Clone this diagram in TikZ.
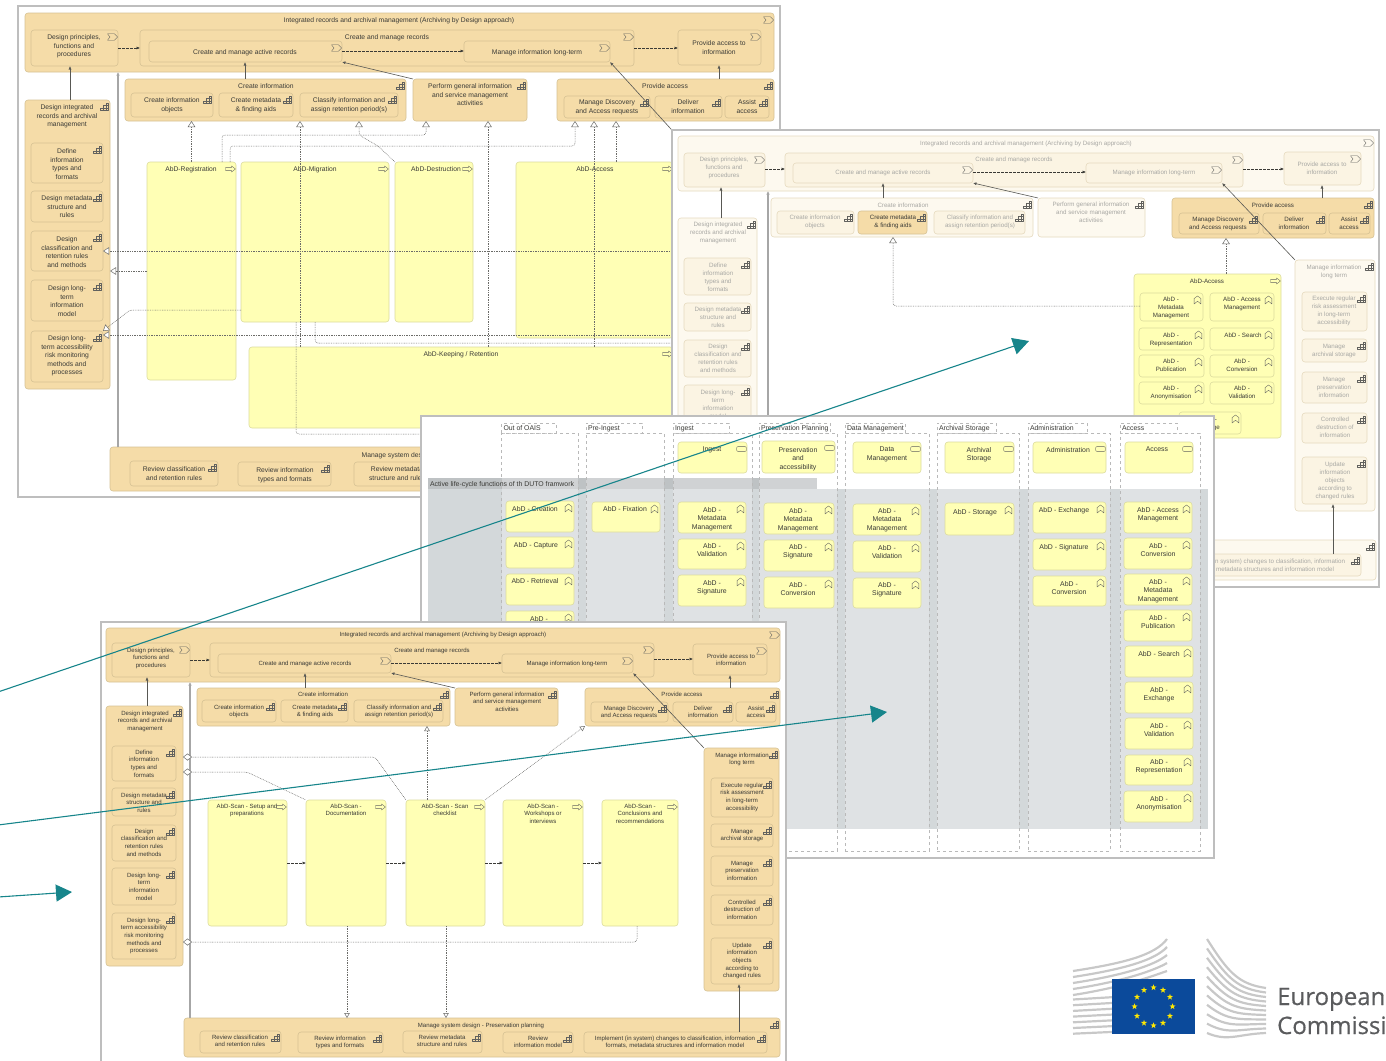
\documentclass[tikz,border=0pt]{standalone}
\usepackage{fontspec}
\setmainfont{Liberation Sans}
\newfontfamily\logofont[BoldFont=Open Sans,BoldFeatures={FakeBold=0.5}]{Open Sans}
\usetikzlibrary{arrows.meta,shapes.geometric}
\definecolor{capfill}{HTML}{F5DCA8}
\definecolor{capline}{HTML}{D6C294}
\definecolor{fadefill}{HTML}{FDF9EF}
\definecolor{fadein}{HTML}{FBF4E3}
\definecolor{fadeline}{HTML}{E6DABF}
\definecolor{fadetxt}{HTML}{A8A8A4}
\definecolor{yelfill}{HTML}{FFFFB5}
\definecolor{yelline}{HTML}{DCDC9E}
\definecolor{darktxt}{HTML}{3A3A36}
\definecolor{framegray}{HTML}{BEBEBE}
\definecolor{grpfill}{HTML}{D3D8DA}
\definecolor{grphead}{HTML}{BEC2C4}
\definecolor{tealarrow}{HTML}{17858B}
\definecolor{flagblue}{HTML}{0B4A9B}
\definecolor{logogray}{HTML}{5A5B5D}
\definecolor{wing}{HTML}{C8C8C8}
\def\bfs{6.75}\def\bls{8.4}
\tikzset{
  boxbase/.style={draw, rounded corners=3pt, inner sep=0, outer sep=0, line width=.6pt},
  capbox/.style={boxbase, fill=capfill, draw=capline},
  fadebox/.style={boxbase, fill=fadefill, draw=fadeline},
  fadeinner/.style={boxbase, fill=fadein, draw=fadeline},
  yelbox/.style={boxbase, fill=yelfill, draw=yelline},
  boxtext/.style={inner sep=0, outer sep=0, align=center, anchor=north, yshift=2pt, text=darktxt, font=\fontsize{\bfs}{\bls}\selectfont},
  capbox text/.style={boxtext},
  yelbox text/.style={boxtext},
  fadebox text/.style={boxtext, text=fadetxt},
  fadeinner text/.style={boxtext, text=fadetxt},
  iconline/.style={draw=darktxt!80, line width=.35pt, line join=round},
  capicon/.pic={\draw[iconline] (-4,3.5) rectangle (4,1) (-1.3,1) rectangle (4,-1.5) (1.4,-1.5) rectangle (4,-4) (-1.3,3.5) -- (-1.3,1) (1.4,3.5) -- (1.4,-1.5);},
  valicon/.pic={\draw[iconline] (-5,-3.2) -- (2,-3.2) -- (5,0) -- (2,3.2) -- (-5,3.2) -- (-2.5,0) -- cycle;},
  procicon/.pic={\draw[iconline] (-5,-1.4) -- (1,-1.4) -- (1,-3) -- (5,0) -- (1,3) -- (1,1.4) -- (-5,1.4) -- cycle;},
  funicon/.pic={\draw[iconline] (-3.4,4) -- (-3.4,-1.5) -- (0,-4) -- (3.4,-1.5) -- (3.4,4) -- (0,1.2) -- cycle;},
  svcicon/.pic={\draw[iconline, rounded corners=2pt] (-5,-2.6) rectangle (5,2.6);},
  winframe/.style={draw=framegray, line width=2pt, fill=white, inner sep=0, outer sep=0, anchor=north west},
  flow/.style={draw=darktxt!85, line width=.6pt, -{Latex[length=3.5pt,width=3pt]}},
  thickflow/.style={draw=gray!70, line width=1.4pt, -{Latex[length=3.5pt,width=3.5pt]}},
  trig/.style={draw=darktxt, line width=.5pt, dashed, dash pattern=on 2.5pt off 1.5pt, -{Latex[length=3.5pt,width=3pt]}},
  dotline/.style={draw=darktxt!75, line width=.5pt, dash pattern=on .8pt off .9pt, rounded corners=3pt},
  realize/.style={dotline, -{Triangle[open, fill=white, length=6pt, width=7.5pt, line width=.5pt]}},
  realsmall/.style={dotline, -{Triangle[open, fill=white, length=5pt, width=5.5pt, line width=.5pt]}},
  aggreg/.style={dotline, {Diamond[open, fill=white, length=9pt, width=7pt, line width=.5pt]}-},
  lanebox/.style={draw=gray!55, dashed, line width=.5pt, fill=white, fill opacity=.28, inner sep=0, outer sep=0, anchor=north west},
  lanetext/.style={inner sep=0, outer sep=0, anchor=west, text=darktxt, font=\fontsize{6.9}{8}\selectfont},
  bigarrow/.style={draw=tealarrow, line width=1.1pt, -{Triangle[length=16pt,width=17pt]}},
  flagstar/.style={star, star points=5, star point ratio=2.5, fill=yellow!90!orange, inner sep=0, minimum size=6.4pt},
  logotext/.style={inner sep=0, anchor=base west, text=logogray, font=\logofont\bfseries\fontsize{24}{26}\selectfont}
}
\newcommand{\abox}[9]{%
  \node[#1, anchor=north west, minimum width={(#6-#4)*1pt}, minimum height={(#7-#5)*1pt}] (#3) at (#4,#5) {};
  \node[#1 text] (#3t) at (#8) {#9};
  \pic at (#6-5.5,#5+7) {#2};
}
\newcommand{\lane}[5]{%
  \node[lanebox, minimum width={(#4-#2)*1pt}, minimum height=10pt] (#1tab) at (#2,423) {};
  \node[lanebox, minimum width={(#3-#2)*1pt}, minimum height=418pt] (#1) at (#2,433) {};
  \node[lanetext] (#1t) at (#2+2,428.5) {#5};
}
\begin{document}
\begin{tikzpicture}[x=1pt,y=-1pt]
\useasboundingbox (0,0) rectangle (1386,1060);

\node[winframe, minimum width=762pt, minimum height=491pt] (win1) at (18,6) {};
\abox{capbox}{valicon}{w1top}{25}{13}{774}{72}{399,20}{Integrated records and archival management (Archiving by Design approach)}
\abox{capbox}{valicon}{w1dp}{31}{30}{118}{66}{74,37}{Design principles,\\functions and\\procedures}
\abox{capbox}{valicon}{w1cmr}{140}{30}{634}{66}{387,37}{Create and manage records}
\abox{capbox}{valicon}{w1active}{149}{41}{342}{62}{245,52}{Create and manage active records}
\abox{capbox}{valicon}{w1long}{464}{41}{610}{62}{537,52}{Manage information long-term}
\abox{capbox}{valicon}{w1provide}{678}{30}{761}{65}{719,43}{Provide access to\\information}
\abox{capbox}{capicon}{w1cinfo}{125}{79}{406}{121}{266,86}{Create information}
\abox{capbox}{capicon}{w1cobj}{131}{93}{213}{117}{172,100}{Create information\\objects}
\abox{capbox}{capicon}{w1cmeta}{219}{93}{293}{117}{256,100}{Create metadata\\\& finding aids}
\abox{capbox}{capicon}{w1class}{300}{93}{398}{117}{349,100}{Classify information and\\assign retention period(s)}
\abox{capbox}{capicon}{w1perform}{413}{79}{527}{121}{470,86}{Perform general information\\and service management\\activities}
\abox{capbox}{capicon}{w1paccess}{557}{79}{774}{121}{665,86}{Provide access}
\abox{capbox}{capicon}{w1disc}{564}{96}{650}{118}{607,102}{Manage Discovery\\and Access requests}
\abox{capbox}{capicon}{w1deliver}{655}{96}{722}{118}{688,102}{Deliver\\information}
\abox{capbox}{capicon}{w1assist}{725}{96}{769}{118}{747,102}{Assist\\access}
\abox{capbox}{capicon}{w1int}{25}{100}{110}{389}{67,107}{Design integrated\\records and archival\\management}
\abox{capbox}{capicon}{w1define}{31}{143}{103}{183}{67,151}{Define\\information\\types and\\formats}
\abox{capbox}{capicon}{w1meta}{31}{191}{103}{222}{67,198}{Design metadata\\structure and\\rules}
\abox{capbox}{capicon}{w1dclass}{31}{231}{103}{271}{67,239}{Design\\classification and\\retention rules\\and methods}
\abox{capbox}{capicon}{w1ltmodel}{31}{280}{103}{321}{67,288}{Design long-\\term\\information\\model}
\abox{capbox}{capicon}{w1ltacc}{31}{331}{103}{382}{67,338}{Design long-\\term accessibility\\risk monitoring\\methods and\\processes}
\abox{yelbox}{procicon}{w1reg}{147}{162}{236}{380}{191,169}{AbD-Registration}
\abox{yelbox}{procicon}{w1mig}{241}{162}{389}{322}{315,169}{AbD-Migration}
\abox{yelbox}{procicon}{w1dest}{395}{162}{473}{322}{436,169}{AbD-Destruction}
\abox{yelbox}{procicon}{w1acc}{516}{162}{673}{338}{595,169}{AbD-Access}
\abox{yelbox}{procicon}{w1keep}{249}{347}{673}{428}{461,354}{AbD-Keeping / Retention}
\abox{capbox}{capicon}{w1system}{110}{447}{500}{491}{432,455}{Manage system design - Preservation planning}
\abox{capbox}{capicon}{w1rclass}{130}{461}{218}{486}{174,469}{Review classification\\and retention rules}
\abox{capbox}{capicon}{w1rinfo}{238}{462}{331}{486}{285,470}{Review information\\types and formats}
\abox{capbox}{capicon}{w1rmeta}{354}{462}{442}{486}{397,469}{Review metadata\\structure and rules}
\coordinate (w1hid) at (680,139);
\coordinate (w1hida) at (680,251);
\coordinate (w1hidb) at (680,335);
\coordinate (w1hidc) at (680,343);
\coordinate (w1hidd) at (430,434);
\draw[flow] (w1int.north -| 70,0) -- (w1dp.south -| 70,0);
\draw[flow] (w1cinfo.north -| 245,0) -- (w1active.south -| 245,0);
\draw[flow] (w1perform.north west) -- (w1active.south east);
\draw[flow] (w1paccess.north -| 719,0) -- (w1provide.south -| 719,0);
\draw[flow] (w1hid) -- (w1long.south east);
\draw[thickflow] (w1system.north -| 118,0) -- (w1top.south -| 118,0);
\draw[trig] (w1dp.east |- 0,48) -- (w1cmr.west |- 0,48);
\draw[trig] (w1active.east |- 0,51) -- (w1long.west |- 0,51);
\draw[trig] (w1cmr.east |- 0,48) -- (w1provide.west |- 0,48);
\draw[realize] (w1reg.north) -- (w1reg.north |- w1cinfo.south);
\draw[realize] (w1keep.north -| 300,0) -- (w1cinfo.south -| 300,0);
\draw[realize] (w1dest.north west) -- (378,146) -- (359,135) -- (w1cinfo.south -| 359,0);
\draw[realize] (w1reg.north -| 222,0) -- (222,135) -- (426,135) -- (w1perform.south -| 426,0);
\draw[realize] (w1reg.north -| 230,0) -- (230,146) -- (575,146) -- (w1paccess.south -| 575,0);
\draw[realize] (w1keep.north -| 488,0) -- (w1perform.south -| 488,0);
\draw[realize] (w1keep.north -| 594,0) -- (w1paccess.south -| 594,0);
\draw[realize] (w1acc.north -| 616,0) -- (w1paccess.south -| 616,0);
\draw[realize] (w1reg.west |- 0,271) -- (w1int.east |- 0,271);
\draw[realize] (w1hida) -- (w1dclass.east |- 0,251);
\draw[realize] (w1mig.west |- 0,310) -- (130,310) -- (w1ltacc.north east);
\draw[realize] (w1hidb) -- (w1ltacc.east |- 0,335);
\draw[dotline] (w1mig.south -| 315,0) -- (315,343) -- (w1hidc);
\draw[dotline] (w1mig.south -| 296,0) -- (296,434) -- (w1hidd);

\def\bfs{6.2}\def\bls{7.9}
\node[winframe, minimum width=707pt, minimum height=457pt] (win2) at (672,130) {};
\abox{fadebox}{valicon}{w2top}{678}{136}{1374}{191}{1026,143}{Integrated records and archival management (Archiving by Design approach)}
\abox{fadeinner}{valicon}{w2dp}{684}{153}{765}{187}{724,159}{Design principles,\\functions and\\procedures}
\abox{fadeinner}{valicon}{w2cmr}{785}{153}{1243}{187}{1014,159}{Create and manage records}
\abox{fadeinner}{valicon}{w2active}{793}{163}{973}{183}{883,172}{Create and manage active records}
\abox{fadeinner}{valicon}{w2long}{1086}{163}{1222}{183}{1154,172}{Manage information long-term}
\abox{fadeinner}{valicon}{w2provide}{1284}{152}{1361}{185}{1322,164}{Provide access to\\information}
\abox{fadebox}{capicon}{w2cinfo}{771}{198}{1033}{237}{903,205}{Create information}
\abox{fadeinner}{capicon}{w2cobj}{777}{211}{854}{234}{815,217}{Create information\\objects}
\abox{capbox}{capicon}{w2cmeta}{858}{211}{927}{234}{893,217}{Create metadata\\\& finding aids}
\abox{fadeinner}{capicon}{w2class}{934}{211}{1025}{234}{980,217}{Classify information and\\assign retention period(s)}
\abox{fadebox}{capicon}{w2perform}{1038}{198}{1145}{237}{1091,204}{Perform general information\\and service management\\activities}
\abox{capbox}{capicon}{w2paccess}{1172}{198}{1374}{238}{1273,205}{Provide access}
\abox{capbox}{capicon}{w2disc}{1179}{213}{1259}{234}{1218,219}{Manage Discovery\\and Access requests}
\abox{capbox}{capicon}{w2deliver}{1263}{213}{1326}{234}{1294,219}{Deliver\\information}
\abox{capbox}{capicon}{w2assist}{1329}{213}{1370}{234}{1349,219}{Assist\\access}
\abox{fadebox}{capicon}{w2int}{678}{218}{757}{470}{718,224}{Design integrated\\records and archival\\management}
\abox{fadeinner}{capicon}{w2define}{684}{258}{751}{295}{718,265}{Define\\information\\types and\\formats}
\abox{fadeinner}{capicon}{w2meta}{684}{303}{751}{331}{718,309}{Design metadata\\structure and\\rules}
\abox{fadeinner}{capicon}{w2dclass}{684}{340}{751}{377}{718,346}{Design\\classification and\\retention rules\\and methods}
\abox{fadeinner}{capicon}{w2ltmodel}{684}{385}{751}{425}{718,392}{Design long-\\term\\information\\model}
\abox{yelbox}{procicon}{w2acc}{1134}{274}{1281}{438}{1207,281}{AbD-Access}
\abox{yelbox}{funicon}{w2fmeta}{1140}{293}{1203}{321}{1171,299}{AbD -\\Metadata\\Management}
\abox{yelbox}{funicon}{w2faccess}{1210}{293}{1274}{321}{1242,299}{AbD - Access\\Management}
\abox{yelbox}{funicon}{w2frep}{1139}{328}{1204}{350}{1171,335}{AbD -\\Representation}
\abox{yelbox}{funicon}{w2fsearch}{1210}{328}{1274}{350}{1243,335}{AbD - Search}
\abox{yelbox}{funicon}{w2fpub}{1139}{355}{1204}{377}{1171,361}{AbD -\\Publication}
\abox{yelbox}{funicon}{w2fconv}{1210}{355}{1274}{377}{1242,361}{AbD -\\Conversion}
\abox{yelbox}{funicon}{w2fanon}{1139}{382}{1204}{404}{1171,388}{AbD -\\Anonymisation}
\abox{yelbox}{funicon}{w2fval}{1210}{382}{1274}{404}{1242,388}{AbD -\\Validation}
\abox{yelbox}{funicon}{w2fstore}{1179}{412}{1241}{434}{1209,419}{AbD -\\Storage}
\abox{fadebox}{capicon}{w2mlt}{1295}{260}{1375}{511}{1334,267}{Manage information\\long term}
\abox{fadeinner}{capicon}{w2exec}{1302}{292}{1367}{331}{1334,298}{Execute regular\\risk assessment\\in long-term\\accessibility}
\abox{fadeinner}{capicon}{w2arch}{1302}{339}{1367}{362}{1334,346}{Manage\\archival storage}
\abox{fadeinner}{capicon}{w2pres}{1302}{372}{1367}{403}{1334,379}{Manage\\preservation\\information}
\abox{fadeinner}{capicon}{w2ctrl}{1302}{413}{1367}{443}{1335,419}{Controlled\\destruction of\\information}
\abox{fadeinner}{capicon}{w2update}{1302}{457}{1367}{504}{1335,464}{Update\\information\\objects\\according to\\changed rules}
\abox{fadebox}{capicon}{w2system}{1000}{540}{1376}{580}{1100,547}{}
\abox{fadeinner}{capicon}{w2impl}{1170}{554}{1361}{576}{1263,561}{Implement (in system) changes to classification, information\\formats, metadata structures and information model}
\coordinate (w2hid) at (768,440);
\draw[flow] (w2int.north -| 721,0) -- (w2dp.south -| 721,0);
\draw[thickflow] (w2hid) -- (w2top.south -| 768,0);
\draw[flow] (w2cinfo.north -| 883,0) -- (w2active.south -| 883,0);
\draw[flow] (w2perform.north west) -- (w2active.south east);
\draw[flow] (w2paccess.north -| 1322,0) -- (w2provide.south -| 1322,0);
\draw[flow] (w2mlt.north west) -- (w2long.south east);
\draw[flow] (w2impl.north -| 1333,0) -- (w2update.south -| 1333,0);
\draw[trig] (w2dp.east |- 0,169) -- (w2cmr.west |- 0,169);
\draw[trig] (w2active.east |- 0,172) -- (w2long.west |- 0,172);
\draw[trig] (w2cmr.east |- 0,169) -- (w2provide.west |- 0,169);
\draw[realize] (w2acc.north -| 1226,0) -- (w2paccess.south -| 1226,0);
\draw[realize] (w2fmeta.west |- 0,306) -- (893,306) -- (w2cinfo.south -| 893,0);

\def\bfs{6.9}\def\bls{8.7}
\node[winframe, minimum width=793pt, minimum height=442pt] (win3) at (421,416) {};
\node[inner sep=0, outer sep=0, anchor=north west, fill=grpfill, minimum width=780pt, minimum height=340pt] (grp) at (428,489) {};
\node[inner sep=0, outer sep=0, anchor=north west, fill=grphead, minimum width=389pt, minimum height=11pt] (grphead) at (428,478) {};
\lane{oais}{501.5}{578}{556}{Out of OAIS}
\lane{pre}{586}{664}{642}{Pre-Ingest}
\lane{ing}{673}{752}{729}{Ingest}
\lane{plan}{759}{837}{830}{Preservation Planning}
\lane{data}{845}{929}{905}{Data Management}
\lane{stor}{937}{1019}{996}{Archival Storage}
\lane{adm}{1028}{1110}{1087}{Administration}
\lane{acc}{1120}{1200}{1177}{Access}
\node[lanetext] (grpt) at (430,484.5) {Active life-cycle functions of th DUTO framwork};
\abox{yelbox}{svcicon}{w3ing}{678}{442}{747}{473}{712,449}{Ingest}
\abox{yelbox}{svcicon}{w3plan}{762}{441}{835}{473}{798,449}{Preservation\\and\\accessibility}
\abox{yelbox}{svcicon}{w3data}{853}{442}{921}{473}{887,449}{Data\\Management}
\abox{yelbox}{svcicon}{w3stor}{945}{442}{1014}{473}{979,449}{Archival\\Storage}
\abox{yelbox}{svcicon}{w3adm}{1033}{442}{1106}{473}{1068,449}{Administration}
\abox{yelbox}{svcicon}{w3acc}{1125}{442}{1193}{473}{1157,449}{Access}
\abox{yelbox}{funicon}{aCre}{506}{501}{574}{532}{535,508}{AbD - Creation}
\abox{yelbox}{funicon}{aCap}{506}{537}{574}{568}{536,544}{AbD - Capture}
\abox{yelbox}{funicon}{aRet}{506}{574}{574}{605}{535,580}{AbD - Retrieval}
\abox{yelbox}{funicon}{aHid}{506}{611}{574}{640}{539,618}{AbD -}
\abox{yelbox}{funicon}{bFix}{592}{502}{660}{532}{625,508}{AbD - Fixation}
\abox{yelbox}{funicon}{cMet}{678}{502}{746}{533}{712,509}{AbD -\\Metadata\\Management}
\abox{yelbox}{funicon}{cVal}{678}{539}{746}{569}{712,545}{AbD -\\Validation}
\abox{yelbox}{funicon}{cSig}{678}{575}{746}{606}{712,582}{AbD -\\Signature}
\abox{yelbox}{funicon}{dMet}{764}{503}{834}{534}{798,510}{AbD -\\Metadata\\Management}
\abox{yelbox}{funicon}{dSig}{764}{540}{834}{571}{798,546}{AbD -\\Signature}
\abox{yelbox}{funicon}{dCon}{764}{577}{834}{608}{798,584}{AbD -\\Conversion}
\abox{yelbox}{funicon}{eMet}{853}{504}{921}{535}{887,510}{AbD -\\Metadata\\Management}
\abox{yelbox}{funicon}{eVal}{853}{541}{921}{572}{887,547}{AbD -\\Validation}
\abox{yelbox}{funicon}{eSig}{853}{578}{921}{608}{887,584}{AbD -\\Signature}
\abox{yelbox}{funicon}{fSto}{945}{503}{1014}{535}{975,511}{AbD - Storage}
\abox{yelbox}{funicon}{gExc}{1033}{502}{1106}{533}{1064,509}{AbD - Exchange}
\abox{yelbox}{funicon}{gSig}{1033}{539}{1106}{570}{1064,546}{AbD - Signature}
\abox{yelbox}{funicon}{gCon}{1033}{576}{1106}{606}{1069,583}{AbD -\\Conversion}
\abox{yelbox}{funicon}{hAcc}{1124}{502}{1192}{533}{1158,509}{AbD - Access\\Management}
\abox{yelbox}{funicon}{hCon}{1124}{538}{1192}{569}{1158,545}{AbD -\\Conversion}
\abox{yelbox}{funicon}{hMet}{1124}{574}{1192}{605}{1158,581}{AbD -\\Metadata\\Management}
\abox{yelbox}{funicon}{hPub}{1124}{610}{1192}{641}{1158,617}{AbD -\\Publication}
\abox{yelbox}{funicon}{hSea}{1125}{646}{1193}{677}{1159,653}{AbD - Search}
\abox{yelbox}{funicon}{hExc}{1125}{682}{1193}{713}{1159,689}{AbD -\\Exchange}
\abox{yelbox}{funicon}{hVal}{1125}{718}{1193}{749}{1159,725}{AbD -\\Validation}
\abox{yelbox}{funicon}{hRep}{1125}{755}{1193}{785}{1159,761}{AbD -\\Representation}
\abox{yelbox}{funicon}{hAno}{1124}{791}{1193}{822}{1159,798}{AbD -\\Anonymisation}

\def\bfs{6.05}\def\bls{7.6}
\node[winframe, minimum width=685pt, minimum height=445pt] (win4) at (101,622) {};
\abox{capbox}{valicon}{w4top}{106}{628}{780}{682}{443,634}{Integrated records and archival management (Archiving by Design approach)}
\abox{capbox}{valicon}{w4dp}{112}{643}{190}{677}{151,650}{Design principles,\\functions and\\procedures}
\abox{capbox}{valicon}{w4cmr}{210}{643}{654}{677}{432,650}{Create and manage records}
\abox{capbox}{valicon}{w4active}{218}{654}{391}{673}{305,663}{Create and manage active records}
\abox{capbox}{valicon}{w4long}{502}{654}{633}{673}{567,663}{Manage information long-term}
\abox{capbox}{valicon}{w4provide}{693}{644}{767}{675}{731,656}{Provide access to\\information}
\abox{capbox}{capicon}{w4cinfo}{197}{688}{450}{726}{323,694}{Create information}
\abox{capbox}{capicon}{w4cobj}{202}{700}{276}{722}{239,707}{Create information\\objects}
\abox{capbox}{capicon}{w4cmeta}{281}{700}{348}{722}{315,707}{Create metadata\\\& finding aids}
\abox{capbox}{capicon}{w4class}{354}{700}{443}{722}{399,707}{Classify information and\\assign retention period(s)}
\abox{capbox}{capicon}{w4perform}{455}{688}{558}{726}{507,694}{Perform general information\\and service management\\activities}
\abox{capbox}{capicon}{w4paccess}{585}{688}{780}{726}{682,694}{Provide access}
\abox{capbox}{capicon}{w4disc}{591}{702}{668}{722}{629,708}{Manage Discovery\\and Access requests}
\abox{capbox}{capicon}{w4deliver}{673}{702}{733}{722}{703,708}{Deliver\\information}
\abox{capbox}{capicon}{w4assist}{736}{702}{776}{722}{756,708}{Assist\\access}
\abox{capbox}{capicon}{w4int}{106}{706}{183}{966}{145,713}{Design integrated\\records and archival\\management}
\abox{capbox}{capicon}{w4define}{112}{746}{176}{781}{144,752}{Define\\information\\types and\\formats}
\abox{capbox}{capicon}{w4meta}{112}{788}{176}{816}{144,795}{Design metadata\\structure and\\rules}
\abox{capbox}{capicon}{w4dclass}{112}{825}{176}{861}{144,831}{Design\\classification and\\retention rules\\and methods}
\abox{capbox}{capicon}{w4ltmodel}{112}{868}{176}{905}{144,875}{Design long-\\term\\information\\model}
\abox{capbox}{capicon}{w4ltacc}{112}{913}{176}{959}{144,920}{Design long-\\term accessibility\\risk monitoring\\methods and\\processes}
\abox{capbox}{capicon}{w4mlt}{704}{748}{779}{991}{742,755}{Manage information\\long term}
\abox{capbox}{capicon}{w4exec}{711}{778}{773}{817}{742,785}{Execute regular\\risk assessment\\in long-term\\accessibility}
\abox{capbox}{capicon}{w4arch}{711}{824}{773}{847}{742,831}{Manage\\archival storage}
\abox{capbox}{capicon}{w4pres}{711}{856}{773}{886}{742,863}{Manage\\preservation\\information}
\abox{capbox}{capicon}{w4ctrl}{711}{895}{773}{925}{742,902}{Controlled\\destruction of\\information}
\abox{capbox}{capicon}{w4update}{711}{938}{773}{984}{742,945}{Update\\information\\objects\\according to\\changed rules}
\abox{yelbox}{procicon}{w4setup}{208}{800}{287}{926}{247,806}{AbD-Scan - Setup and\\preparations}
\abox{yelbox}{procicon}{w4doc}{306}{800}{386}{926}{346,806}{AbD-Scan -\\Documentation}
\abox{yelbox}{procicon}{w4check}{406}{800}{485}{926}{445,806}{AbD-Scan - Scan\\checklist}
\abox{yelbox}{procicon}{w4work}{503}{800}{583}{926}{543,806}{AbD-Scan -\\Workshops or\\interviews}
\abox{yelbox}{procicon}{w4concl}{602}{800}{678}{926}{640,806}{AbD-Scan -\\Conclusions and\\recommendations}
\abox{capbox}{capicon}{w4system}{184}{1018}{780}{1057}{481,1025}{Manage system design - Preservation planning}
\abox{capbox}{capicon}{w4rclass}{200}{1031}{281}{1053}{240,1037}{Review classification\\and retention rules}
\abox{capbox}{capicon}{w4rinfo}{298}{1032}{383}{1053}{340,1038}{Review information\\types and formats}
\abox{capbox}{capicon}{w4rmeta}{403}{1031}{482}{1053}{442,1037}{Review metadata\\structure and rules}
\abox{capbox}{capicon}{w4rmodel}{503}{1032}{573}{1053}{538,1038}{Review\\information model}
\abox{capbox}{capicon}{w4impl}{584}{1032}{767}{1053}{675,1038}{Implement (in system) changes to classification, information\\formats, metadata structures and information model}
\draw[flow] (w4int.north -| 147,0) -- (w4dp.south -| 147,0);
\draw[flow] (w4cinfo.north -| 305,0) -- (w4active.south -| 305,0);
\draw[flow] (w4perform.north west) -- (w4active.south east);
\draw[flow] (w4paccess.north -| 730,0) -- (w4provide.south -| 730,0);
\draw[flow] (w4mlt.north west) -- (w4long.south east);
\draw[flow] (w4impl.north -| 739,0) -- (w4update.south -| 739,0);
\draw[thickflow] (w4system.north -| 190,0) -- (w4top.south -| 190,0);
\draw[trig] (w4dp.east |- 0,660) -- (w4cmr.west |- 0,660);
\draw[trig] (w4active.east |- 0,663) -- (w4long.west |- 0,663);
\draw[trig] (w4cmr.east |- 0,659) -- (w4provide.west |- 0,659);
\draw[trig] (w4setup.east) -- (w4doc.west);
\draw[trig] (w4doc.east) -- (w4check.west);
\draw[trig] (w4check.east) -- (w4work.west);
\draw[trig] (w4work.east) -- (w4concl.west);
\draw[realsmall] (w4check.north -| 427,0) -- (w4cinfo.south -| 427,0);
\draw[realsmall] (w4check.north east) -- (w4paccess.south west);
\draw[aggreg] (w4int.east |- 0,757) -- (375,757) -- (w4check.north west);
\draw[aggreg] (w4int.east |- 0,772) -- (247,772) -- (w4doc.north west);
\draw[aggreg] (w4int.east |- 0,942) -- (637,942) -- (w4concl.south -| 637,0);
\draw[realsmall] (w4doc.south -| 347,0) -- (w4system.north -| 347,0);
\draw[realsmall] (w4check.south -| 446,0) -- (w4system.north -| 446,0);

\coordinate (arrowa) at (-2,692);
\coordinate (heada) at (1029,341);
\coordinate (arrowb) at (-2,825);
\coordinate (headb) at (887,712);
\coordinate (arrowc) at (-2,897);
\coordinate (headc) at (72,892);
\draw[bigarrow] (arrowa) -- (heada);
\draw[bigarrow] (arrowb) -- (headb);
\draw[bigarrow] (arrowc) -- (headc);

\foreach \i in {0,...,4}
  \draw[wing, line width=2.2pt] (1073,971+\i*6) .. controls (1125,963+\i*6) and (1155,955+\i*5) .. (1167,939+\i*8);
\foreach \i in {5,...,11}
  \draw[wing, line width=2.2pt] (1073,971+\i*5.7) -- (1115,968+\i*5.8);
\foreach \i in {0,...,10}
  \draw[wing, line width=2.2pt] (1207,939+\i*9.4) .. controls (1228,972+\i*7) and (1238,984+\i*5) .. (1266,988+\i*4.5);
\fill[flagblue] (1112,979) rectangle (1195,1034);
\foreach \a in {0,30,...,330}
  \node[flagstar] (star\a) at ({1153.5+19*cos(\a)},{1006.5+19*sin(\a)}) {};
\node[logotext] (econe) at (1277,1005) {European};
\node[logotext] (ectwo) at (1277,1034) {Commissi};
\end{tikzpicture}
\end{document}
